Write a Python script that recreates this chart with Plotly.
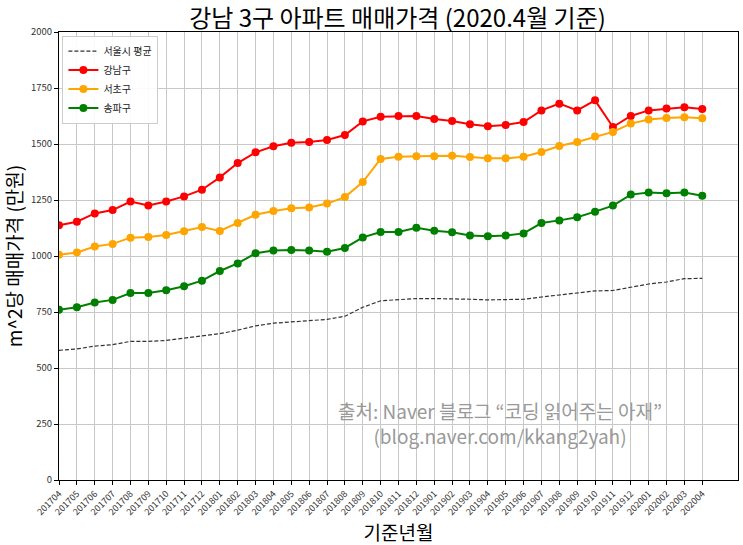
import plotly.graph_objects as go

months = ["201704","201705","201706","201707","201708","201709","201710","201711","201712",
          "201801","201802","201803","201804","201805","201806","201807","201808","201809",
          "201810","201811","201812","201901","201902","201903","201904","201905","201906",
          "201907","201908","201909","201910","201911","201912","202001","202002","202003","202004"]

seoul = [579,585,598,604,619,619,623,632,641,653,669,688,700,706,711,717,731,771,
         800,806,810,810,810,807,804,806,807,817,826,832,844,846,859,875,884,899,900]
gangnam = [1137,1153,1190,1205,1243,1226,1243,1266,1296,1351,1415,1463,1490,1506,1509,1518,1540,1601,
           1622,1625,1625,1612,1603,1588,1579,1585,1598,1650,1680,1650,1695,1576,1625,1650,1658,1664,1656]
seocho = [1006,1016,1042,1054,1082,1085,1094,1110,1129,1112,1147,1184,1201,1213,1217,1234,1263,1330,
          1433,1443,1445,1445,1448,1442,1436,1436,1443,1464,1491,1509,1533,1554,1591,1609,1616,1619,1615]
songpa = [760,771,792,804,835,835,847,865,890,933,967,1012,1025,1027,1024,1019,1036,1083,
          1107,1107,1126,1113,1106,1092,1088,1092,1101,1147,1159,1173,1198,1225,1274,1283,1280,1283,1269]

yticks = [0, 250, 500, 750, 1000, 1250, 1500, 1750, 2000]

FONT = "Noto Sans CJK KR, Malgun Gothic, sans-serif"

fig = go.Figure()
fig.add_trace(go.Scatter(x=months, y=seoul, name="서울시 평균", mode="lines",
                         line=dict(color="#333333", width=1.2, dash="4px,2px")))
fig.add_trace(go.Scatter(x=months, y=gangnam, name="강남구", mode="lines+markers",
                         line=dict(color="red", width=2), marker=dict(color="red", size=8)))
fig.add_trace(go.Scatter(x=months, y=seocho, name="서초구", mode="lines+markers",
                         line=dict(color="orange", width=2), marker=dict(color="orange", size=8)))
fig.add_trace(go.Scatter(x=months, y=songpa, name="송파구", mode="lines+markers",
                         line=dict(color="green", width=2), marker=dict(color="green", size=8)))

fig.update_layout(
    width=743, height=545,
    margin=dict(l=59, r=5, t=32, b=65),
    paper_bgcolor="white", plot_bgcolor="white",
    font=dict(family=FONT, color="#222222"),
    title=dict(text="강남 3구 아파트 매매가격 (2020.4월 기준)", x=0.535, xanchor="center",
               y=0.965, yanchor="middle", font=dict(size=24, color="black", family=FONT)),
    legend=dict(x=0.005, y=0.992, xanchor="left", yanchor="top",
                bgcolor="rgba(255,255,255,0.9)", bordercolor="#cccccc", borderwidth=1,
                font=dict(size=10, family=FONT), tracegroupgap=0, itemwidth=30),
    showlegend=True,
)
fig.update_xaxes(
    type="category", range=[0, 38], tickangle=-45,
    tickfont=dict(size=9, color="#333333"),
    showgrid=True, gridcolor="#c8c8c8", gridwidth=1,
    showline=True, linecolor="black", linewidth=1, mirror=True,
    ticks="outside", ticklen=4, tickcolor="black",
    title=dict(text="기준년월", font=dict(size=19, color="black", family=FONT), standoff=4),
)
fig.update_yaxes(
    range=[0, 2000], tickvals=yticks, ticktext=[str(v) for v in yticks],
    tickfont=dict(size=9.5, color="#333333"),
    showgrid=True, gridcolor="#c8c8c8", gridwidth=1, zeroline=False,
    showline=True, linecolor="black", linewidth=1, mirror=True,
    ticks="outside", ticklen=4, tickcolor="black",
    title=dict(text="m^2당 매매가격 (만원)", font=dict(size=19, color="black", family=FONT), standoff=6),
)

fig.add_annotation(xref="paper", yref="paper", x=0.649, y=0.127, xanchor="center", yanchor="middle",
                   showarrow=False,
                   text="출처: Naver 블로그 “코딩 읽어주는 아재”<br>(blog.naver.com/kkang2yah)",
                   font=dict(size=19, color="#999999", family=FONT), align="center")

fig.write_html("out.html")
